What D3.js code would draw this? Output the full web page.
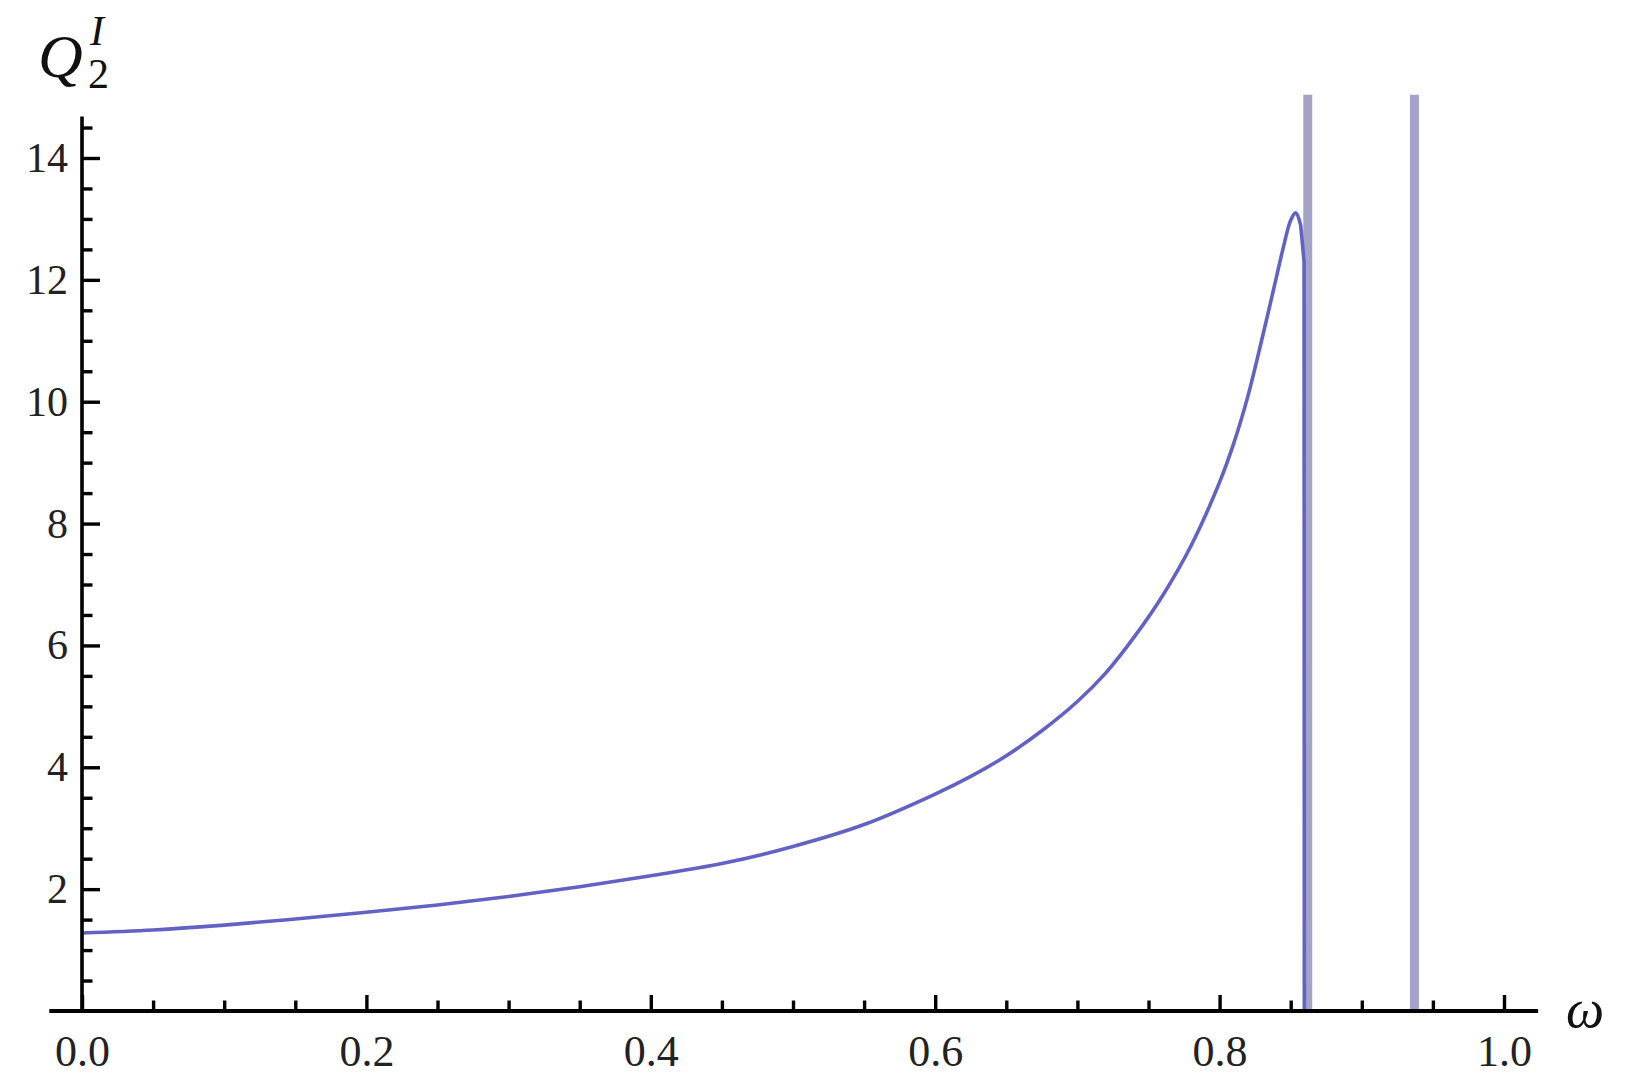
<!DOCTYPE html>
<html>
<head>
<meta charset="utf-8">
<script src="https://cdn.jsdelivr.net/npm/d3@7/dist/d3.min.js"></script>
<style>
  body { margin: 0; background: #fff; }
  svg { display: block; }
  .tick text { font-family: "Liberation Serif", "DejaVu Serif", serif; fill: #222; }
</style>
</head>
<body>
<svg width="1626" height="1091"></svg>
<script>
"use strict";
// curve: omega -> Q2'
let omega = [0, 0.05, 0.1, 0.15, 0.2, 0.25, 0.3, 0.35, 0.4, 0.45, 0.5, 0.55, 0.6, 0.625, 0.65, 0.675,
    0.7, 0.72, 0.74, 0.76, 0.78, 0.8, 0.81, 0.82, 0.83, 0.84, 0.845, 0.85, 0.8535, 0.857, 0.8594, 0.8596];
let q2 = [1.28, 1.33, 1.41, 1.51, 1.62, 1.74, 1.88, 2.04, 2.22, 2.42, 2.70, 3.06, 3.56, 3.85, 4.19, 4.6,
    5.08, 5.55, 6.14, 6.82, 7.64, 8.68, 9.32, 10.1, 11.05, 12.05, 12.55, 12.98, 13.1, 12.9, 12.3, 0];
// the two grey vertical lines
let asymptotes = [0.862, 0.937];
let xTicks = [0, 0.2, 0.4, 0.6, 0.8, 1.0];
let yTicks = [2, 4, 6, 8, 10, 12, 14];

let svg = d3.select("svg");
let x = d3.scaleLinear().domain([0, 1]).range([82, 1504]);
let y = d3.scaleLinear().domain([0, 14]).range([1011, 158]);

let xMinor = d3.range(0, 1.0001, 0.05).filter(v => xTicks.indexOf(+v.toFixed(2)) < 0);
let yMinor = d3.range(0.5, 14.6, 0.5).filter(v => v % 2 !== 0);

// vertical lines behind the curve
svg.selectAll("line.asym")
    .data(asymptotes)
    .enter().append("line")
    .attr("class", "asym")
    .attr("x1", d => x(d)).attr("x2", d => x(d))
    .attr("y1", y(0)).attr("y2", y(15.04))
    .attr("stroke", "#a2a3c6")
    .attr("stroke-width", 9);

// curve: smooth rising part, then the straight drop after the peak
let pts = omega.map((w, i) => [w, q2[i]]);
let peak = omega.indexOf(0.857);
let smooth = d3.line().x(d => x(d[0])).y(d => y(d[1])).curve(d3.curveCatmullRom.alpha(0.5));
let straight = d3.line().x(d => x(d[0])).y(d => y(d[1]));
svg.append("path")
    .attr("d", smooth(pts.slice(0, peak + 1)) + straight(pts.slice(peak)).replace(/^M[^L]*/, ""))
    .attr("fill", "none")
    .attr("stroke", "#6262c4")
    .attr("stroke-width", 3.6)
    .attr("stroke-linejoin", "round");

// x axis
let gx = svg.append("g").attr("transform", "translate(0," + y(0) + ")");
gx.call(d3.axisBottom(x).tickValues(xMinor).tickSizeInner(-10.5).tickSizeOuter(0).tickFormat(""));
gx.call(g => g.select(".domain").remove());
let gx2 = svg.append("g").attr("transform", "translate(0," + y(0) + ")");
gx2.call(d3.axisBottom(x).tickValues(xTicks).tickSizeInner(-16).tickSizeOuter(0)
    .tickPadding(24).tickFormat(d3.format(".1f")));
gx2.call(g => g.select(".domain").remove());
gx2.selectAll("text").attr("font-size", 44);

// y axis
let gy = svg.append("g").attr("transform", "translate(" + x(0) + ",0)");
gy.call(d3.axisLeft(y).tickValues(yMinor).tickSizeInner(-10.5).tickSizeOuter(0).tickFormat(""));
gy.call(g => g.select(".domain").remove());
let gy2 = svg.append("g").attr("transform", "translate(" + x(0) + ",0)");
gy2.call(d3.axisLeft(y).tickValues(yTicks).tickSizeInner(-18).tickSizeOuter(0).tickPadding(14));
gy2.call(g => g.select(".domain").remove());
gy2.selectAll("text").attr("font-size", 42);

svg.selectAll(".tick line").attr("stroke", "#000").attr("stroke-width", 3.4);

// axis lines
svg.append("line")
    .attr("x1", x(-0.023)).attr("x2", x(1.024))
    .attr("y1", y(0)).attr("y2", y(0))
    .attr("stroke", "#000").attr("stroke-width", 4);
svg.append("line")
    .attr("x1", x(0)).attr("x2", x(0))
    .attr("y1", y(0)).attr("y2", y(14.68))
    .attr("stroke", "#000").attr("stroke-width", 3.6);

// axis titles
let serif = "'Liberation Serif', 'DejaVu Serif', serif";
let yl = svg.append("text")
    .attr("font-family", serif).attr("font-style", "italic")
    .attr("fill", "#111");
yl.append("tspan").attr("x", 38).attr("y", 77).attr("font-size", 62).text("Q");
yl.append("tspan").attr("x", 90).attr("y", 45).attr("font-size", 42).text("I");
yl.append("tspan").attr("x", 88).attr("y", 88).attr("font-size", 42)
    .attr("font-style", "normal").text("2");

svg.append("text")
    .attr("x", 1566).attr("y", 1027)
    .attr("font-family", serif).attr("font-style", "italic")
    .attr("font-size", 54).attr("fill", "#111")
    .text("ω");
</script>
</body>
</html>
